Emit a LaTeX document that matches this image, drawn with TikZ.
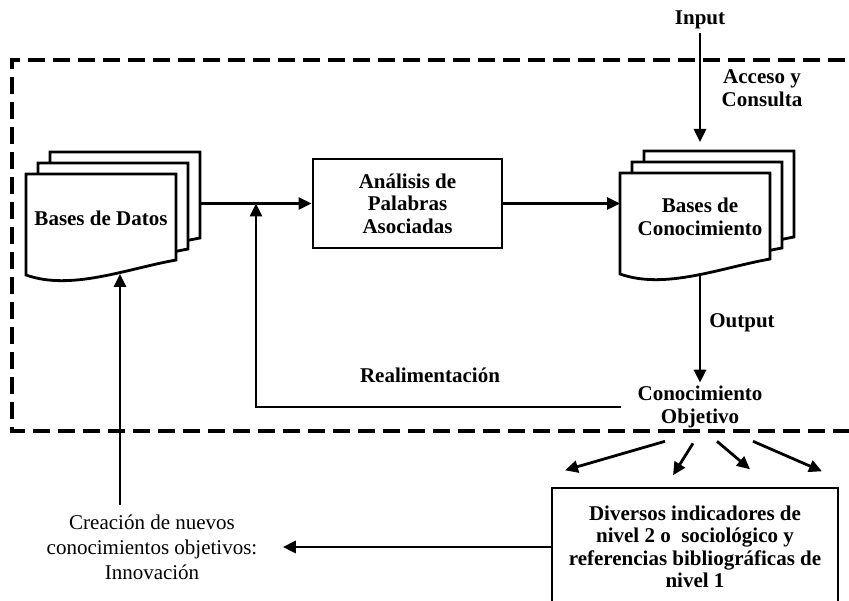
\documentclass[tikz,border=0pt]{standalone}
\usepackage{fontspec}
\setmainfont{Liberation Serif}
\usetikzlibrary{arrows.meta}

\newcommand{\bigfont}{\fontsize{21pt}{22.5pt}\selectfont}

\tikzset{
    txt/.style={align=center, font=\bigfont\bfseries},
    box/.style={rectangle, draw, line width=2.8pt, align=center, font=\bigfont\bfseries},
    page/.style={draw, fill=white, line width=2.8pt},
    link/.style={line width=2.8pt, -{Triangle[length=13pt,width=12pt]}},
    frame/.style={line width=3.5pt, dash pattern=on 17pt off 8pt}
}

% stack of three pages: #1 name, #2 #3 top left corner of the front page
\newcommand{\docstack}[3]{
    \foreach \k in {2,1,0}
        \draw[page, shift={(#2+12*\k,#3-11*\k)}] (0,0) -- (150,0) -- (150,86)
            .. controls (100,95) and (45,117) .. (0,101) -- cycle;
    \coordinate (#1-w) at (#2,#3+43);
    \coordinate (#1-e) at (#2+174,#3+21);
    \coordinate (#1-n) at (#2+99,#3-22);
    \coordinate (#1-s) at (#2+80,#3+100);
}

\begin{document}
\begin{tikzpicture}[x=1pt, y=-1pt]
    \useasboundingbox (0,0) rectangle (849,601);

    % Dashed frame
    \draw[frame] (870,60) -- (12,60) -- (12,431) -- (870,431);

    % Page stacks
    \docstack{bd}{26}{174}
    \docstack{bc}{620}{173}

    % Nodes
    \node[txt] (datos) at (101,218) {Bases de Datos};
    \node[txt] (conoc) at (700,217) {Bases de\\Conocimiento};
    \node[box, minimum width=189pt, minimum height=89pt] (ana) at (407.5,203.5) {Análisis de\\Palabras\\Asociadas};
    \node[txt] (input) at (700,20) {Input};
    \node[txt] (acceso) at (762,88) {Acceso y\\Consulta};
    \node[txt] (output) at (742,323) {Output};
    \node[txt, inner xsep=16pt] (objetivo) at (700,407) {Conocimiento\\Objetivo};
    \node[txt] (realim) at (430,375) {Realimentación};
    \node[box, minimum width=286pt, minimum height=118pt] (ind) at (695,547)
        {Diversos indicadores de\\nivel 2 o\ \ sociológico y\\referencias bibliográficas de\\nivel 1};
    \node[align=center, font=\fontsize{21pt}{25pt}\selectfont] (crea) at (152,547)
        {Creación de nuevos\\conocimientos objetivos:\\Innovación};

    % Edges
    \draw[link] (bd-e |- ana.west) -- (ana.west);
    \draw[link] (ana.east) -- (ana.east -| bc-w);
    \draw[link, shorten >=9pt] (input) -- (input |- bc-n);
    \draw[link] (bc-s -| objetivo) -- (objetivo);
    \coordinate (fb) at (256,0);
    \draw[link] (objetivo.west) -| (fb |- ana.west);
    \coordinate (up) at (120,505);
    \draw[link] (up) -- (up |- bd-s);
    \draw[link, shorten >=22pt] (ind.west) -- (crea.east);

    % Arrows towards the indicators
    \draw[link] (objetivo.south) ++(-35,10) -- ++(-100,29);
    \draw[link] (objetivo.south) ++(-7,12) -- ++(-20,32);
    \draw[link] (objetivo.south) ++(17,10) -- ++(33,28);
    \draw[link] (objetivo.south) ++(53,10) -- ++(69,30);

\end{tikzpicture}
\end{document}
